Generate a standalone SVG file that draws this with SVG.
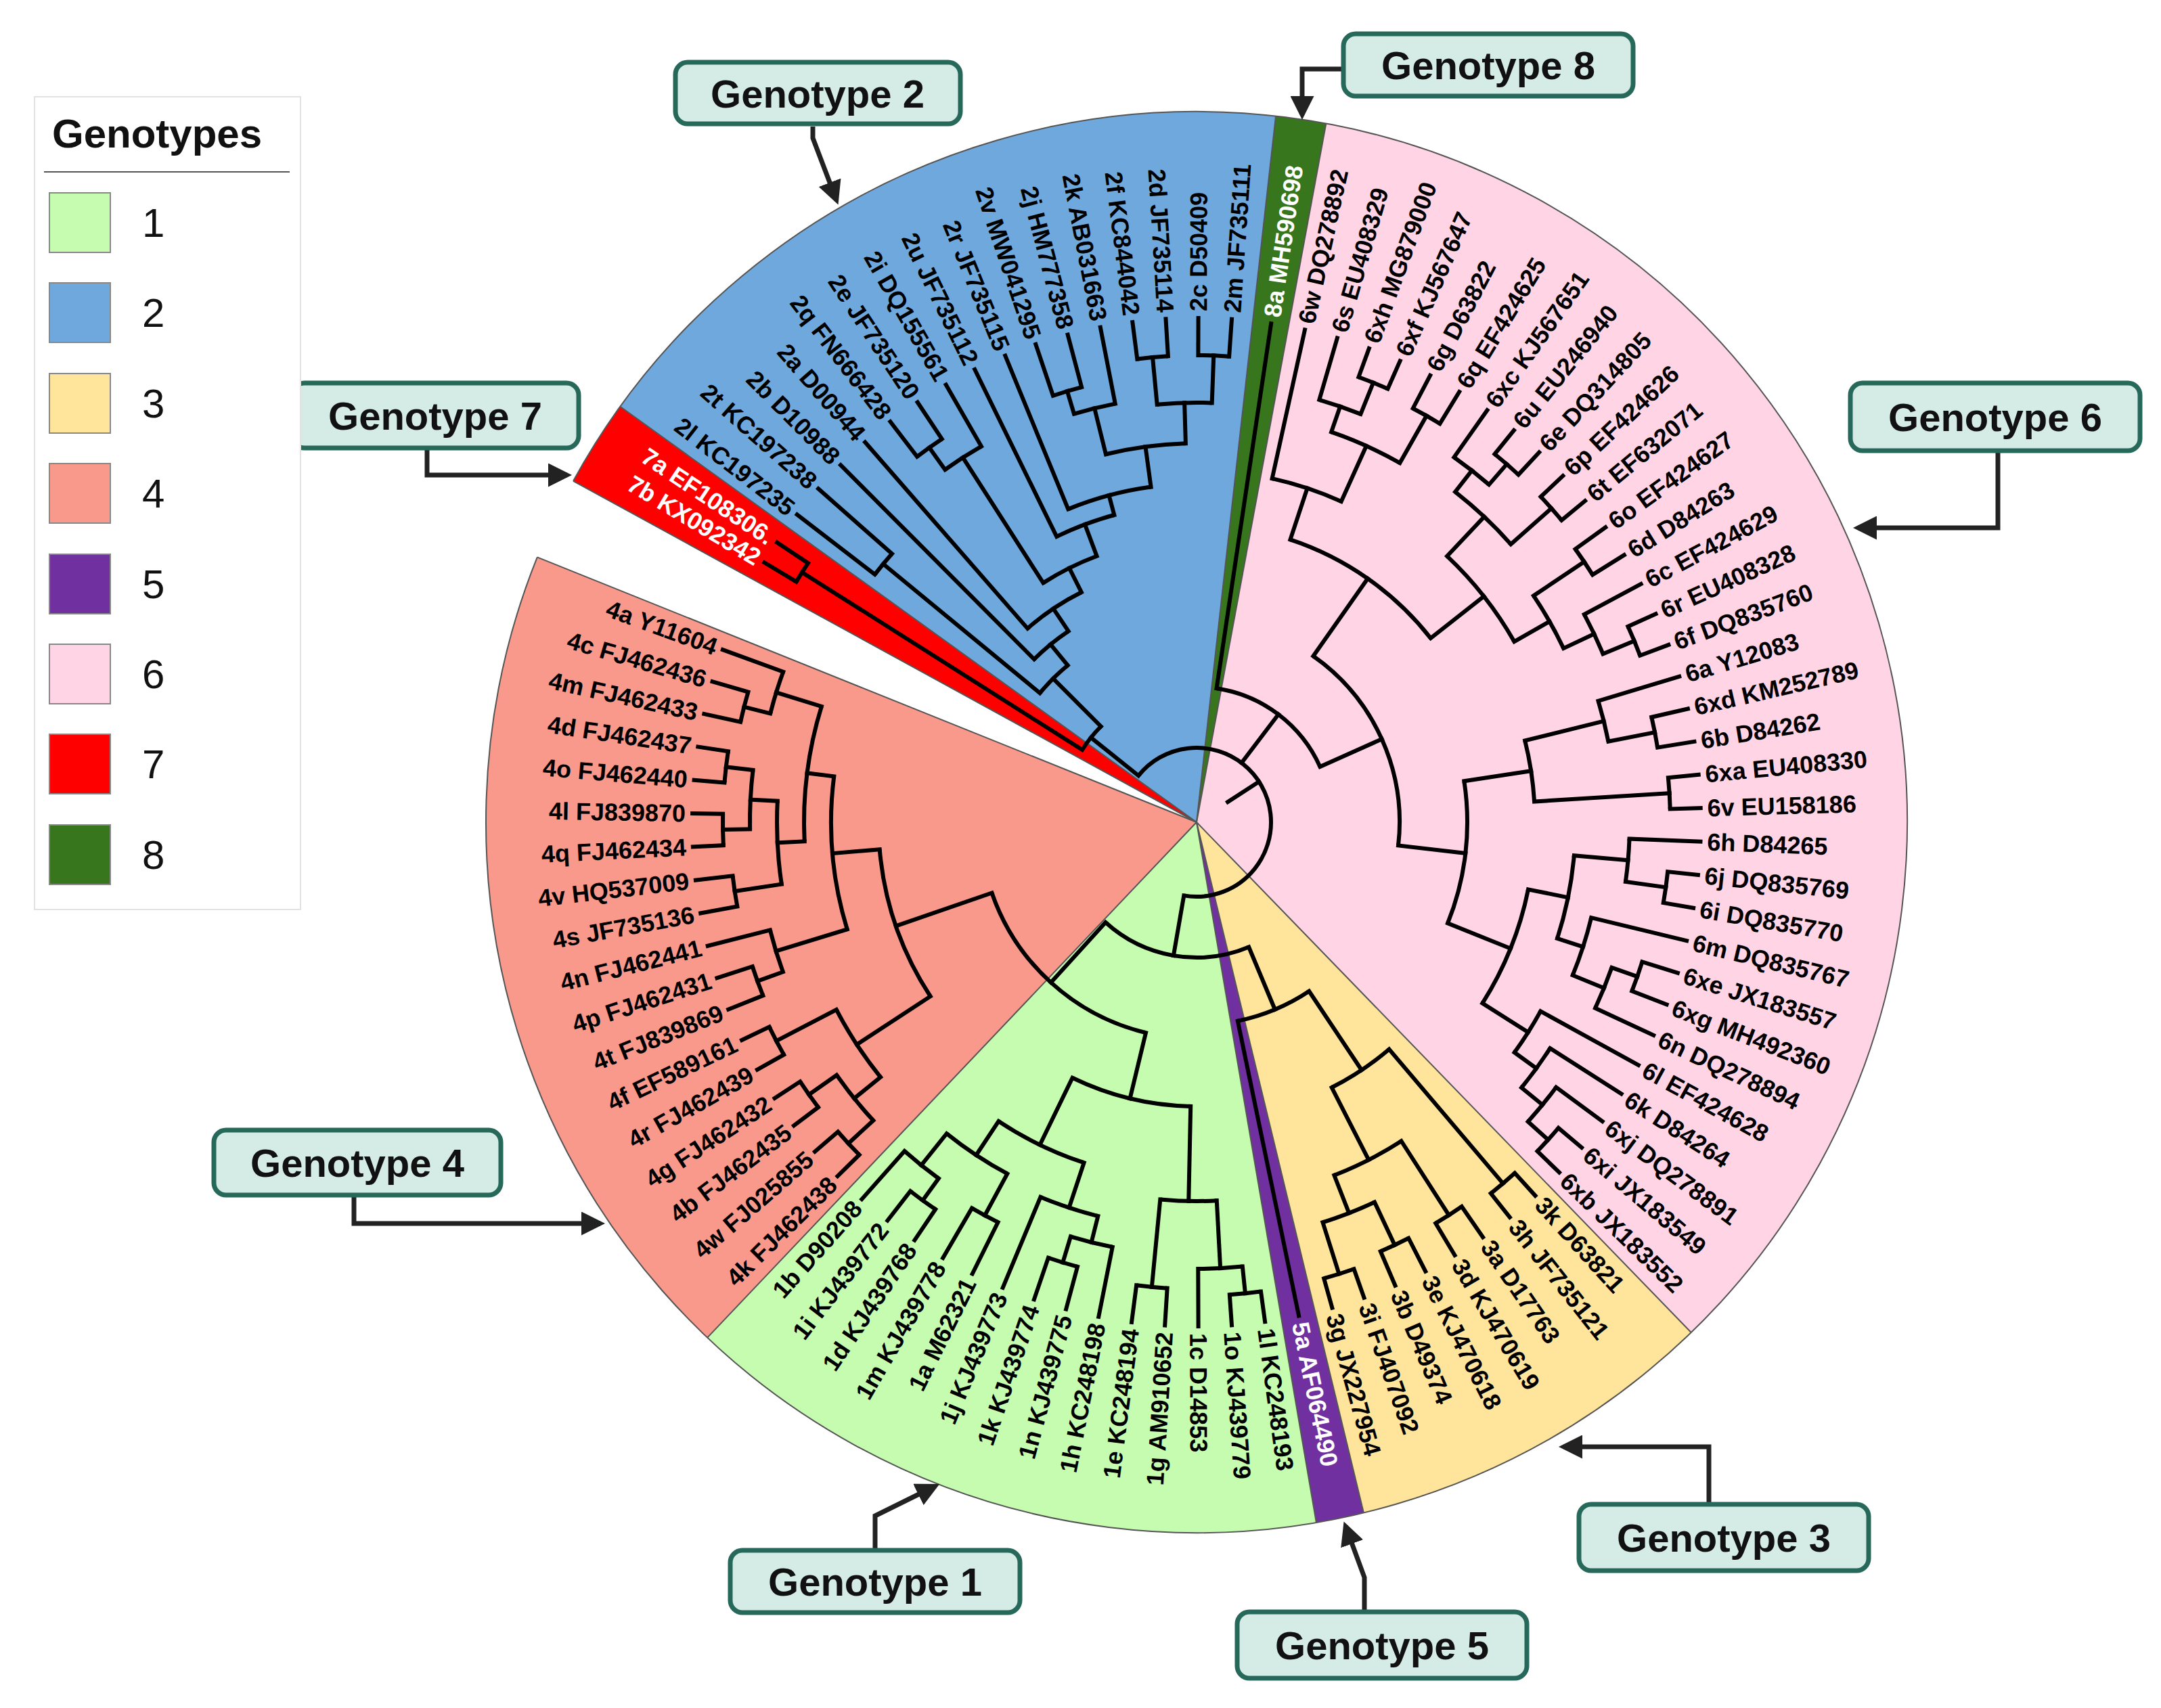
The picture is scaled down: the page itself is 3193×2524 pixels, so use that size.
<svg xmlns="http://www.w3.org/2000/svg" width="3193" height="2524" viewBox="0 0 3193 2524">
<defs>
<style>
.b line,.b circle{stroke:#000;stroke-width:6;fill:none;stroke-linecap:square}
.b circle{stroke-linecap:butt}
.w{fill:none;stroke-width:1050}
.lb text{font-family:"Liberation Sans",Arial,sans-serif;font-size:36px;font-weight:bold;fill:#000;dominant-baseline:central}
.lb text.f{text-anchor:end}
.lb text.wt{fill:#fff}
.edge{stroke:#555;stroke-width:2;fill:none}
.cb rect{fill:#d4ebe6;stroke:#26695a;stroke-width:7}
.cb text{font-family:"Liberation Sans",Arial,sans-serif;font-size:58px;font-weight:bold;fill:#111;text-anchor:middle;dominant-baseline:central}
.cn path{stroke:#222;stroke-width:7;fill:none;marker-end:url(#ah)}
.lg text{font-family:"Liberation Sans",Arial,sans-serif;fill:#111}
.lg rect.s{stroke:#888;stroke-width:2}
</style>
<marker id="ah" viewBox="0 0 10 10" refX="8" refY="5" markerWidth="5" markerHeight="5" orient="auto" markerUnits="strokeWidth"><path d="M0,0 L10,5 L0,10 z" fill="#222"/></marker>
</defs>
<rect width="3193" height="2524" fill="#fff"/>
<g id="wedges" transform="translate(1768,1215)">
<circle class="w" r="525" pathLength="360" stroke="#6fa8dc" stroke-dasharray="60.6 999" transform="rotate(-144.2)"/>
<circle class="w" r="525" pathLength="360" stroke="#38761d" stroke-dasharray="4.1 999" transform="rotate(-83.6)"/>
<circle class="w" r="525" pathLength="360" stroke="#ffd5e5" stroke-dasharray="125.4 999" transform="rotate(-79.5)"/>
<circle class="w" r="525" pathLength="360" stroke="#ffe49c" stroke-dasharray="30.5 999" transform="rotate(45.9)"/>
<circle class="w" r="525" pathLength="360" stroke="#7030a0" stroke-dasharray="3.9 999" transform="rotate(76.4)"/>
<circle class="w" r="525" pathLength="360" stroke="#c5fcb0" stroke-dasharray="53.2 999" transform="rotate(80.3)"/>
<circle class="w" r="525" pathLength="360" stroke="#f8998c" stroke-dasharray="68.4 999" transform="rotate(133.5)"/>
<circle class="w" r="525" pathLength="360" stroke="#ff0000" stroke-dasharray="7.1 999" transform="rotate(-151.3)"/>
<circle class="edge" r="1050" pathLength="360" stroke-dasharray="353.2 999" transform="rotate(-151.3)"/>
<g class="edge">
<line x2="1050" transform="rotate(-144.2)"/><line x2="1050" transform="rotate(-83.6)"/><line x2="1050" transform="rotate(-79.5)"/><line x2="1050" transform="rotate(45.9)"/><line x2="1050" transform="rotate(76.4)"/><line x2="1050" transform="rotate(80.3)"/><line x2="1050" transform="rotate(133.5)"/><line x2="1050" transform="rotate(-158.1)"/><line x2="1050" transform="rotate(-151.3)"/>
</g>
</g>
<g id="tree" class="b" transform="translate(1768,1215)">
<circle r="110" pathLength="360" stroke-dasharray="241.1 999" transform="rotate(-141.3)"/>
<line x1="55" x2="110" transform="rotate(-33)"/>
<line x1="110" x2="200" transform="rotate(-141.3)"/><circle r="200" pathLength="360" stroke-dasharray="12.7 999" transform="rotate(-147.65)"/>
<line x1="200" x2="690" transform="rotate(-147.65)"/><circle r="690" pathLength="360" stroke-dasharray="2.7 999" transform="rotate(-149)"/>
<line x1="690" x2="745" transform="rotate(-149)"/><line x1="690" x2="745" transform="rotate(-146.3)"/>
<line x1="200" x2="300" transform="rotate(-134.95)"/><circle r="300" pathLength="360" stroke-dasharray="11.1 999" transform="rotate(-140.5)"/>
<line x1="300" x2="600" transform="rotate(-140.5)"/><circle r="600" pathLength="360" stroke-dasharray="3.8 999" transform="rotate(-142.4)"/>
<line x1="600" x2="745" transform="rotate(-142.4)"/><line x1="600" x2="745" transform="rotate(-138.6)"/>
<line x1="300" x2="340" transform="rotate(-129.4)"/><circle r="340" pathLength="360" stroke-dasharray="11.05 999" transform="rotate(-134.9)"/>
<line x1="340" x2="745" transform="rotate(-134.9)"/>
<line x1="340" x2="380" transform="rotate(-123.85)"/><circle r="380" pathLength="360" stroke-dasharray="14.5 999" transform="rotate(-131.1)"/>
<line x1="380" x2="745" transform="rotate(-131.1)"/>
<line x1="380" x2="420" transform="rotate(-116.6)"/><circle r="420" pathLength="360" stroke-dasharray="12.1 999" transform="rotate(-122.65)"/>
<line x1="420" x2="640" transform="rotate(-122.65)"/><circle r="640" pathLength="360" stroke-dasharray="5.7 999" transform="rotate(-125.5)"/>
<line x1="640" x2="745" transform="rotate(-119.8)"/>
<line x1="640" x2="680" transform="rotate(-125.5)"/><circle r="680" pathLength="360" stroke-dasharray="3.8 999" transform="rotate(-127.4)"/>
<line x1="680" x2="745" transform="rotate(-127.4)"/><line x1="680" x2="745" transform="rotate(-123.6)"/>
<line x1="420" x2="470" transform="rotate(-110.55)"/><circle r="470" pathLength="360" stroke-dasharray="11.1 999" transform="rotate(-116.1)"/>
<line x1="470" x2="745" transform="rotate(-116.1)"/>
<line x1="470" x2="500" transform="rotate(-105)"/><circle r="500" pathLength="360" stroke-dasharray="14.55 999" transform="rotate(-112.3)"/>
<line x1="500" x2="745" transform="rotate(-112.3)"/>
<line x1="500" x2="560" transform="rotate(-97.75)"/><circle r="560" pathLength="360" stroke-dasharray="12.2 999" transform="rotate(-103.85)"/>
<line x1="560" x2="630" transform="rotate(-103.85)"/><circle r="630" pathLength="360" stroke-dasharray="5.7 999" transform="rotate(-106.7)"/>
<line x1="630" x2="745" transform="rotate(-101)"/>
<line x1="630" x2="665" transform="rotate(-106.7)"/><circle r="665" pathLength="360" stroke-dasharray="3.8 999" transform="rotate(-108.6)"/>
<line x1="665" x2="745" transform="rotate(-108.6)"/><line x1="665" x2="745" transform="rotate(-104.8)"/>
<line x1="560" x2="620" transform="rotate(-91.65)"/><circle r="620" pathLength="360" stroke-dasharray="7.5 999" transform="rotate(-95.4)"/>
<line x1="620" x2="690" transform="rotate(-95.4)"/><circle r="690" pathLength="360" stroke-dasharray="3.8 999" transform="rotate(-97.3)"/>
<line x1="690" x2="745" transform="rotate(-97.3)"/><line x1="690" x2="745" transform="rotate(-93.5)"/>
<line x1="620" x2="690" transform="rotate(-87.9)"/><circle r="690" pathLength="360" stroke-dasharray="3.8 999" transform="rotate(-89.8)"/>
<line x1="690" x2="745" transform="rotate(-89.8)"/><line x1="690" x2="745" transform="rotate(-86)"/>
<line x1="110" x2="200" transform="rotate(-52.8)"/><circle r="200" pathLength="360" stroke-dasharray="57.33 999" transform="rotate(-81.5)"/>
<line x1="200" x2="745" transform="rotate(-81.5)"/>
<line x1="200" x2="300" transform="rotate(-24.17)"/><circle r="300" pathLength="360" stroke-dasharray="61.51 999" transform="rotate(-54.92)"/>
<line x1="300" x2="440" transform="rotate(-54.92)"/><circle r="440" pathLength="360" stroke-dasharray="33.485 999" transform="rotate(-71.66)"/>
<line x1="440" x2="520" transform="rotate(-71.66)"/><circle r="520" pathLength="360" stroke-dasharray="11.875 999" transform="rotate(-77.6)"/>
<line x1="520" x2="745" transform="rotate(-77.6)"/>
<line x1="520" x2="610" transform="rotate(-65.725)"/><circle r="610" pathLength="360" stroke-dasharray="10.45 999" transform="rotate(-70.95)"/>
<line x1="610" x2="650" transform="rotate(-70.95)"/><circle r="650" pathLength="360" stroke-dasharray="5.7 999" transform="rotate(-73.8)"/>
<line x1="650" x2="745" transform="rotate(-73.8)"/>
<line x1="650" x2="700" transform="rotate(-68.1)"/><circle r="700" pathLength="360" stroke-dasharray="3.8 999" transform="rotate(-70)"/>
<line x1="700" x2="745" transform="rotate(-70)"/><line x1="700" x2="745" transform="rotate(-66.2)"/>
<line x1="610" x2="690" transform="rotate(-60.5)"/><circle r="690" pathLength="360" stroke-dasharray="3.8 999" transform="rotate(-62.4)"/>
<line x1="690" x2="745" transform="rotate(-62.4)"/><line x1="690" x2="745" transform="rotate(-58.6)"/>
<line x1="440" x2="540" transform="rotate(-38.175)"/><circle r="540" pathLength="360" stroke-dasharray="17.1 999" transform="rotate(-46.725)"/>
<line x1="540" x2="620" transform="rotate(-46.725)"/><circle r="620" pathLength="360" stroke-dasharray="10.45 999" transform="rotate(-51.95)"/>
<line x1="620" x2="660" transform="rotate(-51.95)"/><circle r="660" pathLength="360" stroke-dasharray="5.7 999" transform="rotate(-54.8)"/>
<line x1="660" x2="745" transform="rotate(-54.8)"/>
<line x1="660" x2="700" transform="rotate(-49.1)"/><circle r="700" pathLength="360" stroke-dasharray="3.8 999" transform="rotate(-51)"/>
<line x1="700" x2="745" transform="rotate(-51)"/><line x1="700" x2="745" transform="rotate(-47.2)"/>
<line x1="620" x2="700" transform="rotate(-41.5)"/><circle r="700" pathLength="360" stroke-dasharray="3.8 999" transform="rotate(-43.4)"/>
<line x1="700" x2="745" transform="rotate(-43.4)"/><line x1="700" x2="745" transform="rotate(-39.6)"/>
<line x1="540" x2="600" transform="rotate(-29.625)"/><circle r="600" pathLength="360" stroke-dasharray="8.55 999" transform="rotate(-33.9)"/>
<line x1="600" x2="690" transform="rotate(-33.9)"/><circle r="690" pathLength="360" stroke-dasharray="3.8 999" transform="rotate(-35.8)"/>
<line x1="690" x2="745" transform="rotate(-35.8)"/><line x1="690" x2="745" transform="rotate(-32)"/>
<line x1="600" x2="650" transform="rotate(-25.35)"/><circle r="650" pathLength="360" stroke-dasharray="5.7 999" transform="rotate(-28.2)"/>
<line x1="650" x2="745" transform="rotate(-28.2)"/>
<line x1="650" x2="700" transform="rotate(-22.5)"/><circle r="700" pathLength="360" stroke-dasharray="3.8 999" transform="rotate(-24.4)"/>
<line x1="700" x2="745" transform="rotate(-24.4)"/><line x1="700" x2="745" transform="rotate(-20.6)"/>
<line x1="300" x2="400" transform="rotate(6.59)"/><circle r="400" pathLength="360" stroke-dasharray="30.635 999" transform="rotate(-8.725)"/>
<line x1="400" x2="500" transform="rotate(-8.725)"/><circle r="500" pathLength="360" stroke-dasharray="10.45 999" transform="rotate(-13.95)"/>
<line x1="500" x2="620" transform="rotate(-13.95)"/><circle r="620" pathLength="360" stroke-dasharray="5.7 999" transform="rotate(-16.8)"/>
<line x1="620" x2="745" transform="rotate(-16.8)"/>
<line x1="620" x2="690" transform="rotate(-11.1)"/><circle r="690" pathLength="360" stroke-dasharray="3.8 999" transform="rotate(-13)"/>
<line x1="690" x2="745" transform="rotate(-13)"/><line x1="690" x2="745" transform="rotate(-9.2)"/>
<line x1="500" x2="700" transform="rotate(-3.5)"/><circle r="700" pathLength="360" stroke-dasharray="3.8 999" transform="rotate(-5.4)"/>
<line x1="700" x2="745" transform="rotate(-5.4)"/><line x1="700" x2="745" transform="rotate(-1.6)"/>
<line x1="400" x2="500" transform="rotate(21.91)"/><circle r="500" pathLength="360" stroke-dasharray="20.9 999" transform="rotate(11.46)"/>
<line x1="500" x2="560" transform="rotate(11.46)"/><circle r="560" pathLength="360" stroke-dasharray="12.825 999" transform="rotate(5.05)"/>
<line x1="560" x2="640" transform="rotate(5.05)"/><circle r="640" pathLength="360" stroke-dasharray="5.7 999" transform="rotate(2.2)"/>
<line x1="640" x2="745" transform="rotate(2.2)"/>
<line x1="640" x2="700" transform="rotate(7.9)"/><circle r="700" pathLength="360" stroke-dasharray="3.8 999" transform="rotate(6)"/>
<line x1="700" x2="745" transform="rotate(6)"/><line x1="700" x2="745" transform="rotate(9.8)"/>
<line x1="560" x2="600" transform="rotate(17.875)"/><circle r="600" pathLength="360" stroke-dasharray="8.55 999" transform="rotate(13.6)"/>
<line x1="600" x2="745" transform="rotate(13.6)"/>
<line x1="600" x2="650" transform="rotate(22.15)"/><circle r="650" pathLength="360" stroke-dasharray="5.7 999" transform="rotate(19.3)"/>
<line x1="650" x2="745" transform="rotate(25)"/>
<line x1="650" x2="690" transform="rotate(19.3)"/><circle r="690" pathLength="360" stroke-dasharray="3.8 999" transform="rotate(17.4)"/>
<line x1="690" x2="745" transform="rotate(17.4)"/><line x1="690" x2="745" transform="rotate(21.2)"/>
<line x1="500" x2="580" transform="rotate(32.36)"/><circle r="580" pathLength="360" stroke-dasharray="7.125 999" transform="rotate(28.8)"/>
<line x1="580" x2="745" transform="rotate(28.8)"/>
<line x1="580" x2="620" transform="rotate(35.925)"/><circle r="620" pathLength="360" stroke-dasharray="6.65 999" transform="rotate(32.6)"/>
<line x1="620" x2="745" transform="rotate(32.6)"/>
<line x1="620" x2="660" transform="rotate(39.25)"/><circle r="660" pathLength="360" stroke-dasharray="5.7 999" transform="rotate(36.4)"/>
<line x1="660" x2="745" transform="rotate(36.4)"/>
<line x1="660" x2="700" transform="rotate(42.1)"/><circle r="700" pathLength="360" stroke-dasharray="3.8 999" transform="rotate(40.2)"/>
<line x1="700" x2="745" transform="rotate(40.2)"/><line x1="700" x2="745" transform="rotate(44)"/>
<line x1="110" x2="200" transform="rotate(99.8)"/><circle r="200" pathLength="360" stroke-dasharray="64.95 999" transform="rotate(67.3)"/>
<line x1="200" x2="300" transform="rotate(67.3)"/><circle r="300" pathLength="360" stroke-dasharray="21.95 999" transform="rotate(56.35)"/>
<line x1="300" x2="745" transform="rotate(78.3)"/>
<line x1="300" x2="440" transform="rotate(56.35)"/><circle r="440" pathLength="360" stroke-dasharray="13.3 999" transform="rotate(49.7)"/>
<line x1="440" x2="700" transform="rotate(49.7)"/><circle r="700" pathLength="360" stroke-dasharray="3.8 999" transform="rotate(47.8)"/>
<line x1="700" x2="745" transform="rotate(47.8)"/><line x1="700" x2="745" transform="rotate(51.6)"/>
<line x1="440" x2="560" transform="rotate(63)"/><circle r="560" pathLength="360" stroke-dasharray="11.4 999" transform="rotate(57.3)"/>
<line x1="560" x2="690" transform="rotate(57.3)"/><circle r="690" pathLength="360" stroke-dasharray="3.8 999" transform="rotate(55.4)"/>
<line x1="690" x2="745" transform="rotate(55.4)"/><line x1="690" x2="745" transform="rotate(59.2)"/>
<line x1="560" x2="620" transform="rotate(68.7)"/><circle r="620" pathLength="360" stroke-dasharray="7.6 999" transform="rotate(64.9)"/>
<line x1="620" x2="690" transform="rotate(64.9)"/><circle r="690" pathLength="360" stroke-dasharray="3.8 999" transform="rotate(63)"/>
<line x1="690" x2="745" transform="rotate(63)"/><line x1="690" x2="745" transform="rotate(66.8)"/>
<line x1="620" x2="700" transform="rotate(72.5)"/><circle r="700" pathLength="360" stroke-dasharray="3.8 999" transform="rotate(70.6)"/>
<line x1="700" x2="745" transform="rotate(70.6)"/><line x1="700" x2="745" transform="rotate(74.4)"/>
<line x1="200" x2="320" transform="rotate(132.25)"/><circle r="320" pathLength="360" stroke-dasharray="57.4 999" transform="rotate(103.55)"/>
<line x1="320" x2="420" transform="rotate(103.55)"/><circle r="420" pathLength="360" stroke-dasharray="24.7 999" transform="rotate(91.2)"/>
<line x1="420" x2="560" transform="rotate(91.2)"/><circle r="560" pathLength="360" stroke-dasharray="8.55 999" transform="rotate(86.95)"/>
<line x1="560" x2="660" transform="rotate(86.95)"/><circle r="660" pathLength="360" stroke-dasharray="5.7 999" transform="rotate(84.1)"/>
<line x1="660" x2="745" transform="rotate(89.8)"/>
<line x1="660" x2="700" transform="rotate(84.1)"/><circle r="700" pathLength="360" stroke-dasharray="3.8 999" transform="rotate(82.2)"/>
<line x1="700" x2="745" transform="rotate(82.2)"/><line x1="700" x2="745" transform="rotate(86)"/>
<line x1="560" x2="690" transform="rotate(95.5)"/><circle r="690" pathLength="360" stroke-dasharray="3.8 999" transform="rotate(93.6)"/>
<line x1="690" x2="745" transform="rotate(93.6)"/><line x1="690" x2="745" transform="rotate(97.4)"/>
<line x1="420" x2="530" transform="rotate(115.9)"/><circle r="530" pathLength="360" stroke-dasharray="15.2 999" transform="rotate(108.3)"/>
<line x1="530" x2="600" transform="rotate(108.3)"/><circle r="600" pathLength="360" stroke-dasharray="8.55 999" transform="rotate(104.05)"/>
<line x1="600" x2="745" transform="rotate(112.6)"/>
<line x1="600" x2="640" transform="rotate(104.05)"/><circle r="640" pathLength="360" stroke-dasharray="5.7 999" transform="rotate(101.2)"/>
<line x1="640" x2="745" transform="rotate(101.2)"/>
<line x1="640" x2="680" transform="rotate(106.9)"/><circle r="680" pathLength="360" stroke-dasharray="3.8 999" transform="rotate(105)"/>
<line x1="680" x2="745" transform="rotate(105)"/><line x1="680" x2="745" transform="rotate(108.8)"/>
<line x1="530" x2="590" transform="rotate(123.5)"/><circle r="590" pathLength="360" stroke-dasharray="10.45 999" transform="rotate(118.3)"/>
<line x1="590" x2="660" transform="rotate(118.3)"/><circle r="660" pathLength="360" stroke-dasharray="3.8 999" transform="rotate(116.4)"/>
<line x1="660" x2="745" transform="rotate(116.4)"/><line x1="660" x2="745" transform="rotate(120.2)"/>
<line x1="590" x2="650" transform="rotate(128.75)"/><circle r="650" pathLength="360" stroke-dasharray="5.7 999" transform="rotate(125.9)"/>
<line x1="650" x2="745" transform="rotate(131.6)"/>
<line x1="650" x2="690" transform="rotate(125.9)"/><circle r="690" pathLength="360" stroke-dasharray="3.8 999" transform="rotate(124)"/>
<line x1="690" x2="745" transform="rotate(124)"/><line x1="690" x2="745" transform="rotate(127.8)"/>
<line x1="320" x2="470" transform="rotate(160.95)"/><circle r="470" pathLength="360" stroke-dasharray="28.3 999" transform="rotate(146.8)"/>
<line x1="470" x2="600" transform="rotate(146.8)"/><circle r="600" pathLength="360" stroke-dasharray="11.4 999" transform="rotate(141.1)"/>
<line x1="600" x2="650" transform="rotate(141.1)"/><circle r="650" pathLength="360" stroke-dasharray="7.6 999" transform="rotate(137.3)"/>
<line x1="650" x2="700" transform="rotate(137.3)"/><circle r="700" pathLength="360" stroke-dasharray="3.8 999" transform="rotate(135.4)"/>
<line x1="700" x2="745" transform="rotate(135.4)"/><line x1="700" x2="745" transform="rotate(139.2)"/>
<line x1="650" x2="700" transform="rotate(144.9)"/><circle r="700" pathLength="360" stroke-dasharray="3.8 999" transform="rotate(143)"/>
<line x1="700" x2="745" transform="rotate(143)"/><line x1="700" x2="745" transform="rotate(146.8)"/>
<line x1="600" x2="700" transform="rotate(152.5)"/><circle r="700" pathLength="360" stroke-dasharray="3.8 999" transform="rotate(150.6)"/>
<line x1="700" x2="745" transform="rotate(150.6)"/><line x1="700" x2="745" transform="rotate(154.4)"/>
<line x1="470" x2="540" transform="rotate(175.1)"/><circle r="540" pathLength="360" stroke-dasharray="24.25 999" transform="rotate(162.95)"/>
<line x1="540" x2="650" transform="rotate(162.95)"/><circle r="650" pathLength="360" stroke-dasharray="5.7 999" transform="rotate(160.1)"/>
<line x1="650" x2="745" transform="rotate(165.8)"/>
<line x1="650" x2="690" transform="rotate(160.1)"/><circle r="690" pathLength="360" stroke-dasharray="3.8 999" transform="rotate(158.2)"/>
<line x1="690" x2="745" transform="rotate(158.2)"/><line x1="690" x2="745" transform="rotate(162)"/>
<line x1="540" x2="580" transform="rotate(187.2)"/><circle r="580" pathLength="360" stroke-dasharray="19.95 999" transform="rotate(177.2)"/>
<line x1="580" x2="620" transform="rotate(177.2)"/><circle r="620" pathLength="360" stroke-dasharray="11.4 999" transform="rotate(171.5)"/>
<line x1="620" x2="690" transform="rotate(171.5)"/><circle r="690" pathLength="360" stroke-dasharray="3.8 999" transform="rotate(169.6)"/>
<line x1="690" x2="745" transform="rotate(169.6)"/><line x1="690" x2="745" transform="rotate(173.4)"/>
<line x1="620" x2="660" transform="rotate(182.9)"/><circle r="660" pathLength="360" stroke-dasharray="7.6 999" transform="rotate(179.1)"/>
<line x1="660" x2="700" transform="rotate(179.1)"/><circle r="700" pathLength="360" stroke-dasharray="3.8 999" transform="rotate(177.2)"/>
<line x1="700" x2="745" transform="rotate(177.2)"/><line x1="700" x2="745" transform="rotate(181)"/>
<line x1="660" x2="700" transform="rotate(186.7)"/><circle r="700" pathLength="360" stroke-dasharray="3.8 999" transform="rotate(184.8)"/>
<line x1="700" x2="745" transform="rotate(184.8)"/><line x1="700" x2="745" transform="rotate(188.6)"/>
<line x1="580" x2="650" transform="rotate(197.15)"/><circle r="650" pathLength="360" stroke-dasharray="5.7 999" transform="rotate(194.3)"/>
<line x1="650" x2="745" transform="rotate(200)"/>
<line x1="650" x2="690" transform="rotate(194.3)"/><circle r="690" pathLength="360" stroke-dasharray="3.8 999" transform="rotate(192.4)"/>
<line x1="690" x2="745" transform="rotate(192.4)"/><line x1="690" x2="745" transform="rotate(196.2)"/>
</g>
<g id="labels" class="lb" transform="translate(1768,1215)">
<text class="f wt" transform="rotate(-149) translate(755 0) rotate(180)">7b KX092342</text>
<text class="f wt" transform="rotate(-146.3) translate(755 0) rotate(180)">7a EF108306.</text>
<text class="f" transform="rotate(-142.4) translate(755 0) rotate(180)">2l KC197235</text>
<text class="f" transform="rotate(-138.6) translate(755 0) rotate(180)">2t KC197238</text>
<text class="f" transform="rotate(-134.9) translate(755 0) rotate(180)">2b D10988</text>
<text class="f" transform="rotate(-131.1) translate(755 0) rotate(180)">2a D00944</text>
<text class="f" transform="rotate(-127.4) translate(755 0) rotate(180)">2q FN666428</text>
<text class="f" transform="rotate(-123.6) translate(755 0) rotate(180)">2e JF735120</text>
<text class="f" transform="rotate(-119.8) translate(755 0) rotate(180)">2i DQ155561</text>
<text class="f" transform="rotate(-116.1) translate(755 0) rotate(180)">2u JF735112</text>
<text class="f" transform="rotate(-112.3) translate(755 0) rotate(180)">2r JF735115</text>
<text class="f" transform="rotate(-108.6) translate(755 0) rotate(180)">2v MW041295</text>
<text class="f" transform="rotate(-104.8) translate(755 0) rotate(180)">2j HM777358</text>
<text class="f" transform="rotate(-101) translate(755 0) rotate(180)">2k AB031663</text>
<text class="f" transform="rotate(-97.3) translate(755 0) rotate(180)">2f KC844042</text>
<text class="f" transform="rotate(-93.5) translate(755 0) rotate(180)">2d JF735114</text>
<text transform="rotate(-89.8) translate(755 0)">2c D50409</text>
<text transform="rotate(-86) translate(755 0)">2m JF735111</text>
<text class="wt" transform="rotate(-81.5) translate(755 0)">8a MH590698</text>
<text transform="rotate(-77.6) translate(755 0)">6w DQ278892</text>
<text transform="rotate(-73.8) translate(755 0)">6s EU408329</text>
<text transform="rotate(-70) translate(755 0)">6xh MG879000</text>
<text transform="rotate(-66.2) translate(755 0)">6xf KJ567647</text>
<text transform="rotate(-62.4) translate(755 0)">6g D63822</text>
<text transform="rotate(-58.6) translate(755 0)">6q EF424625</text>
<text transform="rotate(-54.8) translate(755 0)">6xc KJ567651</text>
<text transform="rotate(-51) translate(755 0)">6u EU246940</text>
<text transform="rotate(-47.2) translate(755 0)">6e DQ314805</text>
<text transform="rotate(-43.4) translate(755 0)">6p EF424626</text>
<text transform="rotate(-39.6) translate(755 0)">6t EF632071</text>
<text transform="rotate(-35.8) translate(755 0)">6o EF424627</text>
<text transform="rotate(-32) translate(755 0)">6d D84263</text>
<text transform="rotate(-28.2) translate(755 0)">6c EF424629</text>
<text transform="rotate(-24.4) translate(755 0)">6r EU408328</text>
<text transform="rotate(-20.6) translate(755 0)">6f DQ835760</text>
<text transform="rotate(-16.8) translate(755 0)">6a Y12083</text>
<text transform="rotate(-13) translate(755 0)">6xd KM252789</text>
<text transform="rotate(-9.2) translate(755 0)">6b D84262</text>
<text transform="rotate(-5.4) translate(755 0)">6xa EU408330</text>
<text transform="rotate(-1.6) translate(755 0)">6v EU158186</text>
<text transform="rotate(2.2) translate(755 0)">6h D84265</text>
<text transform="rotate(6) translate(755 0)">6j DQ835769</text>
<text transform="rotate(9.8) translate(755 0)">6i DQ835770</text>
<text transform="rotate(13.6) translate(755 0)">6m DQ835767</text>
<text transform="rotate(17.4) translate(755 0)">6xe JX183557</text>
<text transform="rotate(21.2) translate(755 0)">6xg MH492360</text>
<text transform="rotate(25) translate(755 0)">6n DQ278894</text>
<text transform="rotate(28.8) translate(755 0)">6l EF424628</text>
<text transform="rotate(32.6) translate(755 0)">6k D84264</text>
<text transform="rotate(36.4) translate(755 0)">6xj DQ278891</text>
<text transform="rotate(40.2) translate(755 0)">6xi JX183549</text>
<text transform="rotate(44) translate(755 0)">6xb JX183552</text>
<text transform="rotate(47.8) translate(755 0)">3k D63821</text>
<text transform="rotate(51.6) translate(755 0)">3h JF735121</text>
<text transform="rotate(55.4) translate(755 0)">3a D17763</text>
<text transform="rotate(59.2) translate(755 0)">3d KJ470619</text>
<text transform="rotate(63) translate(755 0)">3e KJ470618</text>
<text transform="rotate(66.8) translate(755 0)">3b D49374</text>
<text transform="rotate(70.6) translate(755 0)">3i FJ407092</text>
<text transform="rotate(74.4) translate(755 0)">3g JX227954</text>
<text class="wt" transform="rotate(78.3) translate(755 0)">5a AF064490</text>
<text transform="rotate(82.2) translate(755 0)">1l KC248193</text>
<text transform="rotate(86) translate(755 0)">1o KJ439779</text>
<text transform="rotate(89.8) translate(755 0)">1c D14853</text>
<text class="f" transform="rotate(93.6) translate(755 0) rotate(180)">1g AM910652</text>
<text class="f" transform="rotate(97.4) translate(755 0) rotate(180)">1e KC248194</text>
<text class="f" transform="rotate(101.2) translate(755 0) rotate(180)">1h KC248198</text>
<text class="f" transform="rotate(105) translate(755 0) rotate(180)">1n KJ439775</text>
<text class="f" transform="rotate(108.8) translate(755 0) rotate(180)">1k KJ439774</text>
<text class="f" transform="rotate(112.6) translate(755 0) rotate(180)">1j KJ439773</text>
<text class="f" transform="rotate(116.4) translate(755 0) rotate(180)">1a M62321</text>
<text class="f" transform="rotate(120.2) translate(755 0) rotate(180)">1m KJ439778</text>
<text class="f" transform="rotate(124) translate(755 0) rotate(180)">1d KJ439768</text>
<text class="f" transform="rotate(127.8) translate(755 0) rotate(180)">1i KJ439772</text>
<text class="f" transform="rotate(131.6) translate(755 0) rotate(180)">1b D90208</text>
<text class="f" transform="rotate(135.4) translate(755 0) rotate(180)">4k FJ462438</text>
<text class="f" transform="rotate(139.2) translate(755 0) rotate(180)">4w FJ025855</text>
<text class="f" transform="rotate(143) translate(755 0) rotate(180)">4b FJ462435</text>
<text class="f" transform="rotate(146.8) translate(755 0) rotate(180)">4g FJ462432</text>
<text class="f" transform="rotate(150.6) translate(755 0) rotate(180)">4r FJ462439</text>
<text class="f" transform="rotate(154.4) translate(755 0) rotate(180)">4f EF589161</text>
<text class="f" transform="rotate(158.2) translate(755 0) rotate(180)">4t FJ839869</text>
<text class="f" transform="rotate(162) translate(755 0) rotate(180)">4p FJ462431</text>
<text class="f" transform="rotate(165.8) translate(755 0) rotate(180)">4n FJ462441</text>
<text class="f" transform="rotate(169.6) translate(755 0) rotate(180)">4s JF735136</text>
<text class="f" transform="rotate(173.4) translate(755 0) rotate(180)">4v HQ537009</text>
<text class="f" transform="rotate(177.2) translate(755 0) rotate(180)">4q FJ462434</text>
<text class="f" transform="rotate(181) translate(755 0) rotate(180)">4l FJ839870</text>
<text class="f" transform="rotate(184.8) translate(755 0) rotate(180)">4o FJ462440</text>
<text class="f" transform="rotate(188.6) translate(755 0) rotate(180)">4d FJ462437</text>
<text class="f" transform="rotate(192.4) translate(755 0) rotate(180)">4m FJ462433</text>
<text class="f" transform="rotate(196.2) translate(755 0) rotate(180)">4c FJ462436</text>
<text class="f" transform="rotate(200) translate(755 0) rotate(180)">4a Y11604</text>
</g>
<g id="connectors" class="cn">
<path d="M1201,187 V204 L1236,296"/>
<path d="M1985,102 H1924 V170"/>
<path d="M631,662 V702 H838"/>
<path d="M2952,666 V780 H2745"/>
<path d="M523,1766 V1808 H887"/>
<path d="M1293,2291 V2240 L1382,2196"/>
<path d="M2016,2382 V2331 L1988,2255"/>
<path d="M2525,2223 V2138 H2310"/>
</g>
<g id="callout-2" class="cb"><rect x="998" y="92" width="421" height="91" rx="18"/><text x="1208" y="138">Genotype 2</text></g>
<g id="callout-8" class="cb"><rect x="1985" y="50" width="428" height="92" rx="18"/><text x="2199" y="96">Genotype 8</text></g>
<g id="callout-7" class="cb"><rect x="432" y="566" width="423" height="96" rx="18"/><text x="643" y="614">Genotype 7</text></g>
<g id="callout-6" class="cb"><rect x="2734" y="566" width="428" height="100" rx="18"/><text x="2948" y="616">Genotype 6</text></g>
<g id="callout-4" class="cb"><rect x="316" y="1670" width="424" height="96" rx="18"/><text x="528" y="1718">Genotype 4</text></g>
<g id="callout-1" class="cb"><rect x="1079" y="2291" width="428" height="92" rx="18"/><text x="1293" y="2337">Genotype 1</text></g>
<g id="callout-5" class="cb"><rect x="1828" y="2382" width="428" height="98" rx="18"/><text x="2042" y="2431">Genotype 5</text></g>
<g id="callout-3" class="cb"><rect x="2333" y="2223" width="428" height="98" rx="18"/><text x="2547" y="2272">Genotype 3</text></g>
<g id="legend" class="lg">
<rect x="51" y="143" width="393" height="1201" fill="#fff" stroke="#e2e2e2" stroke-width="2"/>
<text x="77" y="218" font-size="60" font-weight="bold">Genotypes</text>
<line x1="65" y1="254" x2="428" y2="254" stroke="#555" stroke-width="2"/>
<rect class="s" x="73" y="285" width="90" height="88" fill="#c5fcb0"/><text x="210" y="350" font-size="60">1</text>
<rect class="s" x="73" y="418" width="90" height="88" fill="#6fa8dc"/><text x="210" y="483" font-size="60">2</text>
<rect class="s" x="73" y="552" width="90" height="88" fill="#ffe49c"/><text x="210" y="617" font-size="60">3</text>
<rect class="s" x="73" y="685" width="90" height="88" fill="#f8998c"/><text x="210" y="750" font-size="60">4</text>
<rect class="s" x="73" y="819" width="90" height="88" fill="#7030a0"/><text x="210" y="884" font-size="60">5</text>
<rect class="s" x="73" y="952" width="90" height="88" fill="#ffd5e5"/><text x="210" y="1017" font-size="60">6</text>
<rect class="s" x="73" y="1085" width="90" height="88" fill="#ff0000"/><text x="210" y="1150" font-size="60">7</text>
<rect class="s" x="73" y="1219" width="90" height="88" fill="#38761d"/><text x="210" y="1284" font-size="60">8</text>
</g>
</svg>
